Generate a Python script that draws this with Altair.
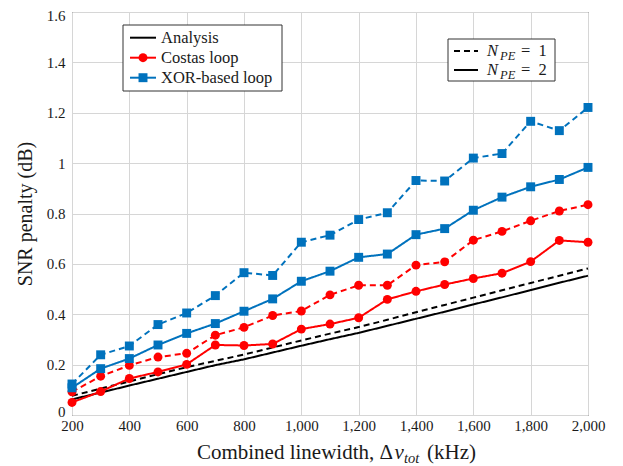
import altair as alt
import pandas as pd

# ---------------- data ----------------
linewidth_khz = [200, 300, 400, 500, 600, 700, 800, 900, 1000, 1100,
                 1200, 1300, 1400, 1500, 1600, 1700, 1800, 1900, 2000]

analysis_npe1 = [0.076, 0.105, 0.133, 0.162, 0.190, 0.215, 0.240, 0.268, 0.296, 0.323,
                 0.349, 0.378, 0.408, 0.437, 0.466, 0.495, 0.524, 0.553, 0.582]
analysis_npe2 = [0.062, 0.089, 0.117, 0.144, 0.171, 0.198, 0.221, 0.248, 0.275, 0.301,
                 0.326, 0.354, 0.382, 0.410, 0.439, 0.467, 0.496, 0.525, 0.553]
costas_npe1 = [0.092, 0.154, 0.197, 0.230, 0.245, 0.317, 0.348, 0.395, 0.413, 0.477,
               0.515, 0.515, 0.595, 0.608, 0.694, 0.729, 0.771, 0.810, 0.835]
costas_npe2 = [0.050, 0.093, 0.145, 0.171, 0.201, 0.278, 0.276, 0.282, 0.341, 0.361,
               0.386, 0.459, 0.491, 0.518, 0.542, 0.563, 0.609, 0.693, 0.686]
xor_npe1 = [0.123, 0.239, 0.274, 0.359, 0.405, 0.474, 0.565, 0.554, 0.686, 0.714,
            0.776, 0.803, 0.931, 0.929, 1.020, 1.038, 1.166, 1.129, 1.221]
xor_npe2 = [0.108, 0.184, 0.224, 0.278, 0.324, 0.363, 0.412, 0.461, 0.531, 0.571,
            0.626, 0.639, 0.716, 0.740, 0.813, 0.865, 0.906, 0.935, 0.983]

series_names = ["Analysis", "Costas loop", "XOR-based loop"]
series_colors = ["#000000", "#FF0000", "#0072BD"]
npe_levels = ["1", "2"]

x_ticks = [200, 400, 600, 800, 1000, 1200, 1400, 1600, 1800, 2000]
y_ticks = [0, 0.2, 0.4, 0.6, 0.8, 1.0, 1.2, 1.4, 1.6]

rows = []
for name, npe, vals in [
    ("Analysis", "1", analysis_npe1), ("Analysis", "2", analysis_npe2),
    ("Costas loop", "1", costas_npe1), ("Costas loop", "2", costas_npe2),
    ("XOR-based loop", "1", xor_npe1), ("XOR-based loop", "2", xor_npe2),
]:
    for xv, yv in zip(linewidth_khz, vals):
        rows.append({"x": xv, "y": yv, "series": name, "npe": npe})
df = pd.DataFrame(rows)

FONT = "Liberation Serif"
GRID = "#d6d6d6"
TXT = "#1a1a1a"
W, H = 516, 403

x_enc = alt.X("x:Q", scale=alt.Scale(domain=[200, 2000], nice=False),
              axis=alt.Axis(values=x_ticks, labelExpr="format(datum.value, ',')",
                            grid=True, gridColor=GRID, ticks=False, domain=False,
                            labelFlush=False,
                            labelPadding=3, labelFontSize=15, labelColor=TXT,
                            title=None))
y_enc = alt.Y("y:Q", scale=alt.Scale(domain=[0, 1.6], nice=False),
              axis=alt.Axis(values=y_ticks, format="~g", grid=True, gridColor=GRID,
                            ticks=False, domain=False, labelPadding=7,
                            labelFontSize=15, labelColor=TXT,
                            labelFlush=True, labelFlushOffset=4,
                            title="SNR penalty (dB)", titleFontSize=20,
                            titleFontWeight="normal", titlePadding=11,
                            titleColor=TXT))
color_enc = alt.Color("series:N", scale=alt.Scale(domain=series_names, range=series_colors),
                      legend=None)
dash_enc = alt.StrokeDash("npe:N", scale=alt.Scale(domain=npe_levels, range=[[6, 4], [1, 0]]),
                          legend=None)

lines = alt.Chart(df).mark_line(strokeWidth=2).encode(
    x=x_enc, y=y_enc, color=color_enc, strokeDash=dash_enc
)
points = alt.Chart(df).transform_filter(alt.datum.series != "Analysis").mark_point(
    filled=True, size=80, opacity=1
).encode(
    x="x:Q", y="y:Q", color=color_enc,
    shape=alt.Shape("series:N", scale=alt.Scale(domain=series_names,
                                                 range=["circle", "circle", "square"]),
                    legend=None),
)

one = pd.DataFrame({"k": [0]})


def box(x1, x2, y1, y2):
    return alt.Chart(one).mark_rect(fill="white", stroke="#333", strokeWidth=1).encode(
        x=alt.value(x1), x2=alt.value(x2), y=alt.value(y1), y2=alt.value(y2))


def sample(x1, x2, y, color, dash=None):
    kw = {"strokeWidth": 2, "color": color}
    if dash is not None:
        kw["strokeDash"] = dash
    return alt.Chart(one).mark_rule(**kw).encode(
        x=alt.value(x1), x2=alt.value(x2), y=alt.value(y))


def marker(x, y, color, shape):
    return alt.Chart(one).mark_point(filled=True, size=80, opacity=1, color=color,
                                     shape=shape).encode(x=alt.value(x), y=alt.value(y))


def label(x, y, txt, size=16.5, style="normal", align="left", baseline="middle"):
    return alt.Chart(one).mark_text(align=align, baseline=baseline, font=FONT,
                                    fontSize=size, fontStyle=style, color=TXT).encode(
        x=alt.value(x), y=alt.value(y), text=alt.value(txt))


legend_layers = [
    box(51, 210, 13, 79),
    sample(58, 84, 25.7, "#000000"),
    label(89, 25.7, "Analysis"),
    sample(58, 84, 45.7, "#FF0000"),
    marker(71, 45.7, "#FF0000", "circle"),
    label(89, 45.7, "Costas loop"),
    sample(58, 84, 65.7, "#0072BD"),
    marker(71, 65.7, "#0072BD", "square"),
    label(89, 65.7, "XOR-based loop"),
    box(376, 483, 27, 69),
    sample(382, 406, 39, "#000000", [6, 4]),
    label(415, 39, "N", 16.5, "italic"),
    label(428, 43.5, "PE", 12.5, "italic"),
    label(449, 39, "=\u00a0\u00a01"),
    sample(382, 406, 58, "#000000"),
    label(415, 58, "N", 16.5, "italic"),
    label(428, 62.5, "PE", 12.5, "italic"),
    label(449, 58, "=\u00a0\u00a02"),
]

# x-axis title built from pieces (italic ν with subscript "tot")
XT = 447  # baseline of the x-axis title, in plot coordinates
title_layers = [
    label(321, XT, "Combined linewidth, Δ", 21, "normal", "right", "alphabetic"),
    label(322.5, XT, "ν", 21, "italic", "left", "alphabetic"),
    label(332, XT + 4, "tot", 14.5, "italic", "left", "alphabetic"),
    label(355, XT, "(kHz)", 21, "normal", "left", "alphabetic"),
]

chart = alt.layer(lines, points, *legend_layers, *title_layers).properties(
    width=W, height=H,
    padding={"left": 64, "top": 4, "right": 20, "bottom": 52},
    autosize=alt.AutoSizeParams(type="none"),
).configure(font=FONT).configure_view(stroke="#222", strokeWidth=1)

chart.save("out.html", embed_options={"renderer": "svg", "actions": False})
